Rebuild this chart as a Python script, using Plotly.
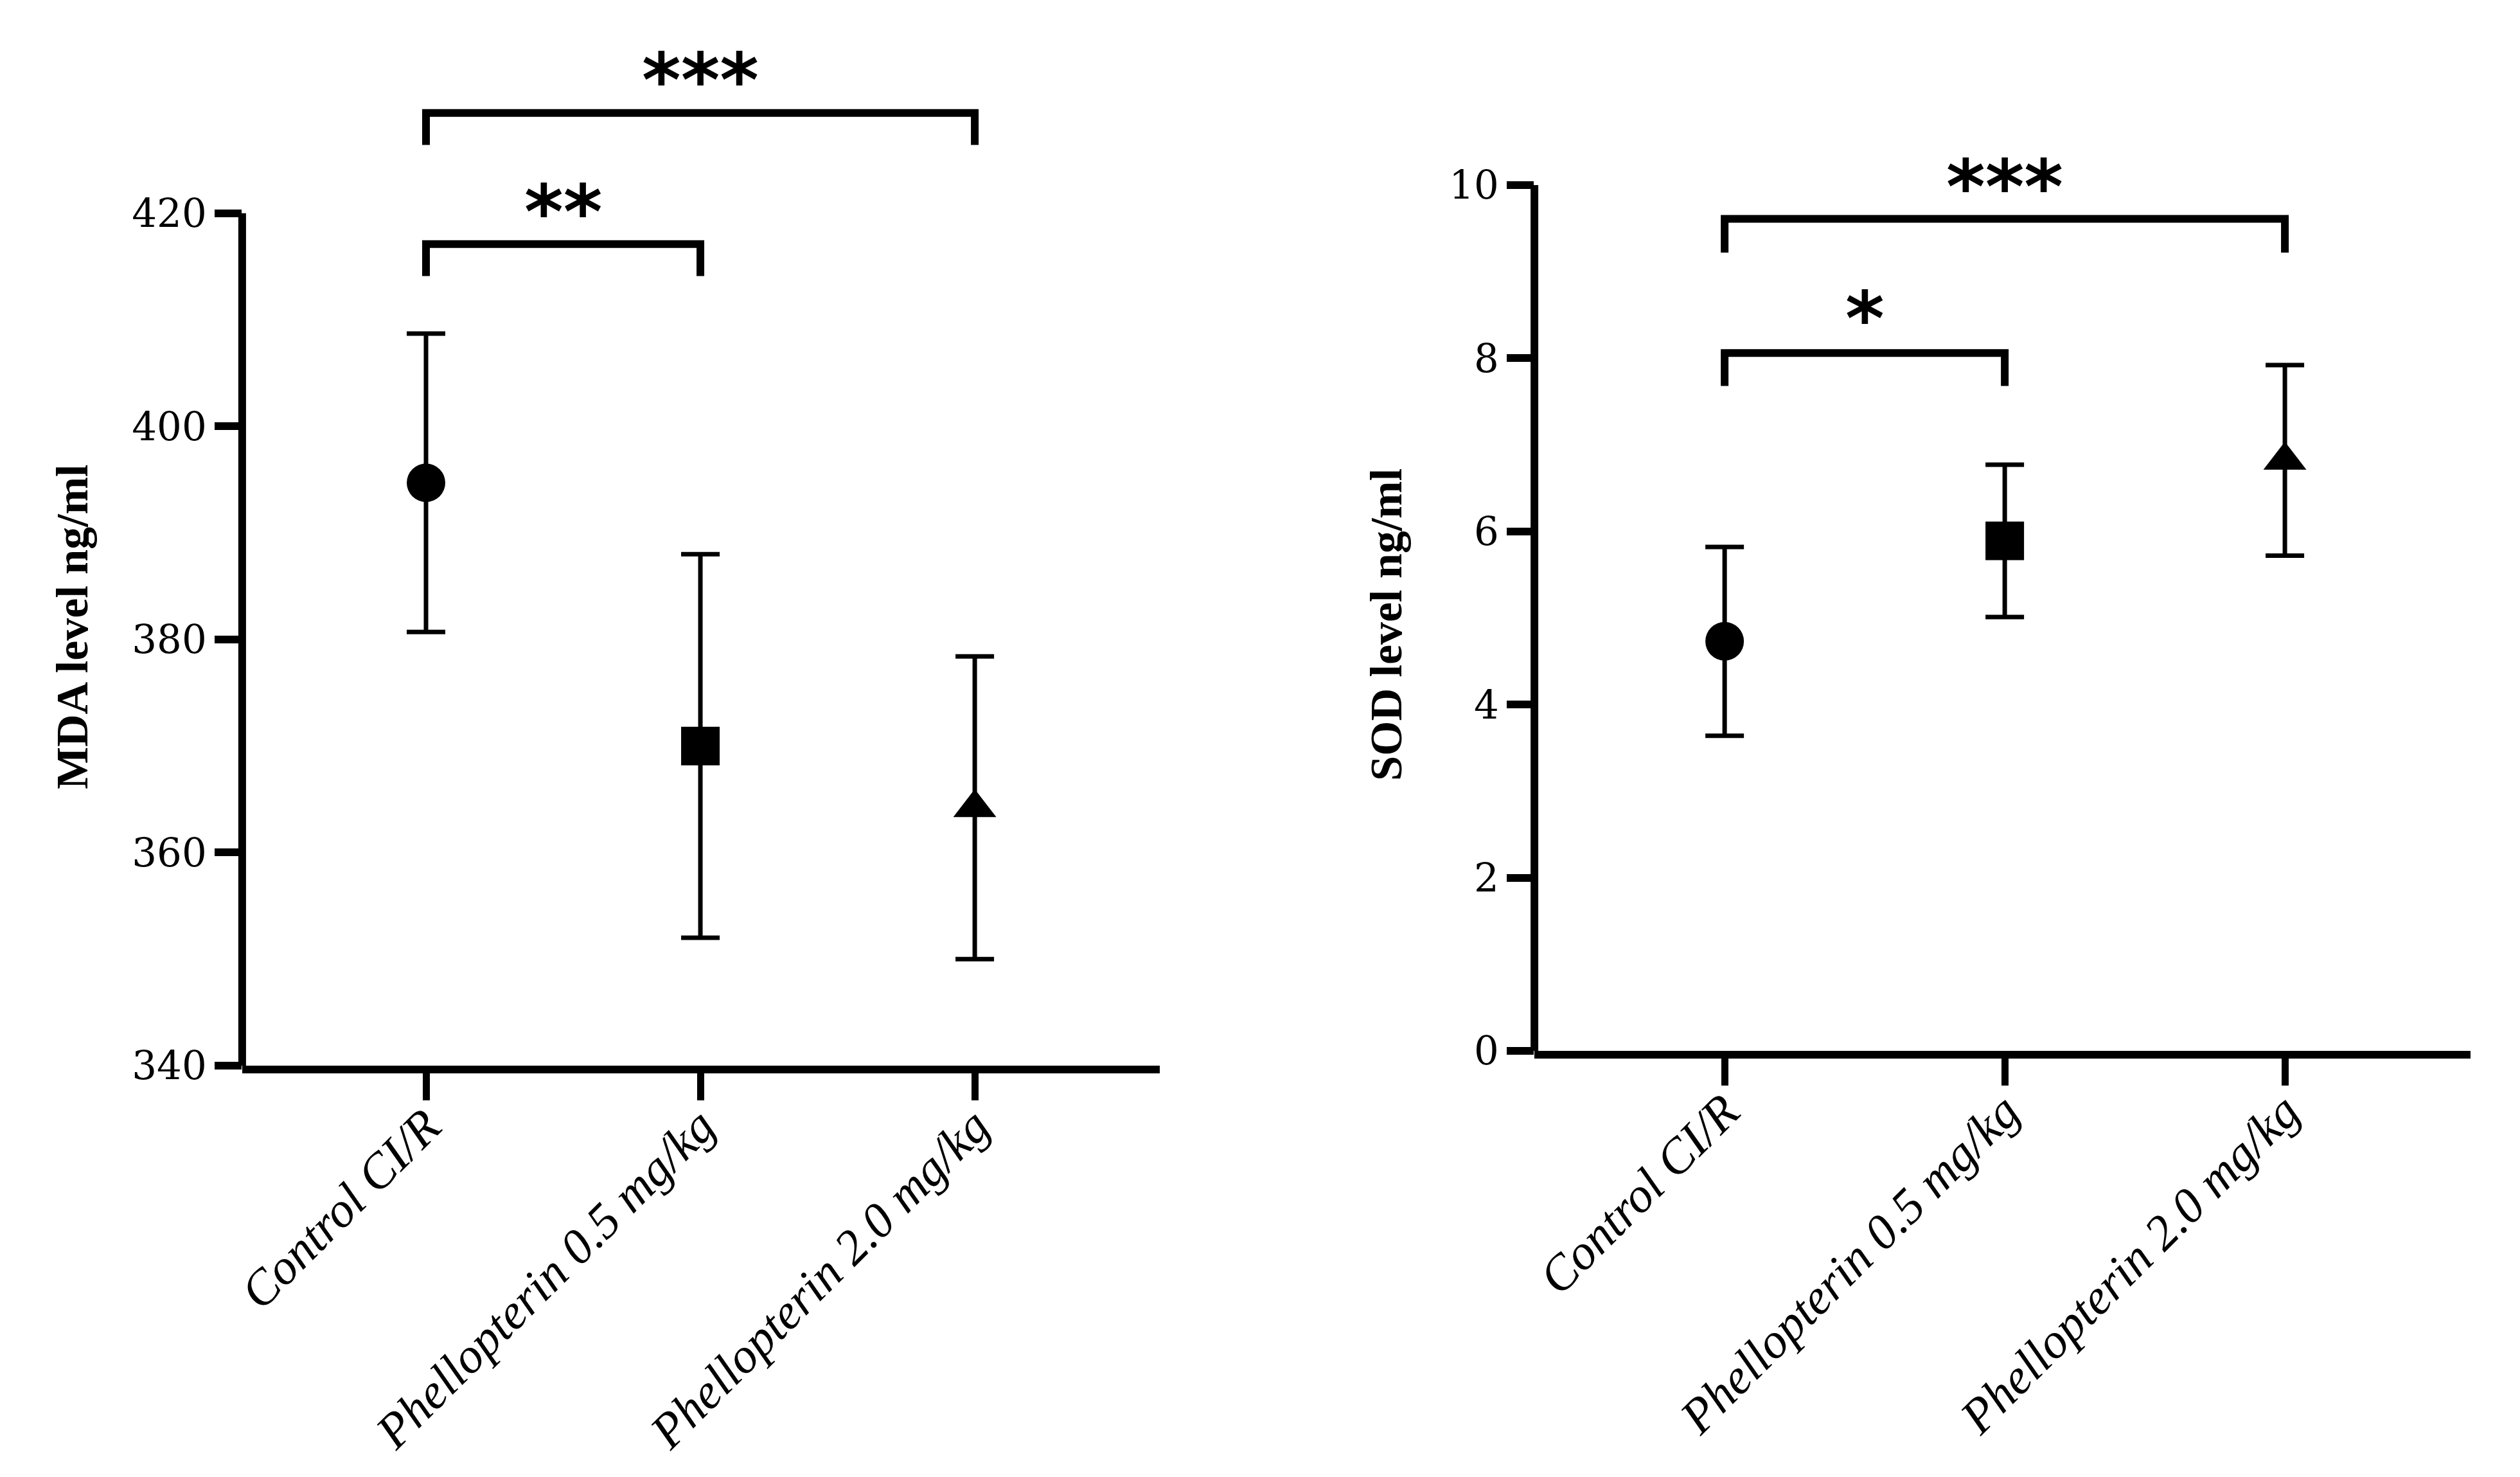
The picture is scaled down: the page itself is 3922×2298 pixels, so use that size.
import plotly.graph_objects as go

# ---------------- data ----------------
categories = ["Control CI/R", "Phellopterin 0.5 mg/kg", "Phellopterin 2.0 mg/kg"]
symbols = ["circle", "square", "triangle-up"]

mda_mean = [394.7, 370.0, 364.2]
mda_err = [14.0, 18.0, 14.2]
mda_ticks = [340, 360, 380, 400, 420]

sod_mean = [4.73, 5.89, 6.82]
sod_err = [1.09, 0.88, 1.10]
sod_ticks = [0, 2, 4, 6, 8, 10]

# significance brackets: (group a, group b, leg bottom, bar height, label, label y)
mda_brackets = [(0, 1, 414.1, 417.1, "**", 421.8),
                (0, 2, 426.4, 429.4, "***", 434.2)]
sod_brackets = [(0, 1, 7.68, 8.06, "*", 8.67),
                (0, 2, 9.22, 9.61, "***", 10.19)]

# ---------------- figure ----------------
W, H = 3922, 2298
fig = go.Figure()

marker_sizes = [60, 60, 58]

for xs, ys, es, xa, ya in [(list(range(len(categories))), mda_mean, mda_err, "x", "y"),
                           (list(range(len(categories))), sod_mean, sod_err, "x2", "y2")]:
    fig.add_trace(go.Scatter(
        x=xs, y=ys, mode="markers",
        marker=dict(symbol=symbols, size=marker_sizes, color="black", opacity=1, line=dict(width=0)),
        error_y=dict(type="data", array=es, symmetric=True, color="black", thickness=7, width=30),
        xaxis=xa, yaxis=ya, cliponaxis=False, showlegend=False, opacity=1))

xtickfont = dict(family="Liberation Serif", size=77, color="black", style="italic")
ytickfont = dict(family="DejaVu Serif", size=61, color="black")

common_x = dict(tickmode="array", tickvals=list(range(len(categories))), ticktext=categories,
                tickangle=-45, tickfont=xtickfont, showline=True, linewidth=12, linecolor="black",
                ticks="outside", ticklen=42, tickwidth=11, tickcolor="black", ticklabelstandoff=-36,
                showgrid=False, zeroline=False, automargin=False, fixedrange=True)
common_y = dict(showline=False, ticks="outside", ticklen=42, tickwidth=12, tickcolor="black",
                tickfont=ytickfont, showgrid=False, zeroline=False, tickmode="array",
                automargin=False, fixedrange=True)

fig.update_layout(
    width=W, height=H, margin=dict(l=0, r=0, t=0, b=0, autoexpand=False),
    paper_bgcolor="white", plot_bgcolor="white", showlegend=False,
    xaxis=dict(domain=[0.0961, 0.4602], range=[-0.670, 2.674], anchor="y", **common_x),
    yaxis=dict(domain=[0.2785, 0.9711], range=[340, 436], anchor="x",
               tickvals=mda_ticks, ticktext=[str(t) for t in mda_ticks], **common_y),
    xaxis2=dict(domain=[0.6089, 0.9804], range=[-0.679, 2.663], anchor="y2", **common_x),
    yaxis2=dict(domain=[0.2885, 0.9099], range=[0, 10.6], anchor="x2",
                tickvals=sod_ticks, ticktext=[str(t) for t in sod_ticks], **common_y),
)

shapes = []
annotations = []

# y-axis lines only up to the last tick
shapes.append(dict(type="line", xref="x domain", yref="y", x0=0, x1=0,
                   y0=mda_ticks[0], y1=mda_ticks[-1], line=dict(color="black", width=12)))
shapes.append(dict(type="line", xref="x2 domain", yref="y2", x0=0, x1=0,
                   y0=sod_ticks[0], y1=sod_ticks[-1], line=dict(color="black", width=12)))

def add_brackets(brackets, xr, yr):
    for a, b, lo, hi, label, ly in brackets:
        shapes.append(dict(type="path", xref=xr, yref=yr,
                           path=f"M {a},{lo} L {a},{hi} L {b},{hi} L {b},{lo}",
                           line=dict(color="black", width=12)))
        annotations.append(dict(x=(a + b) / 2, y=ly, xref=xr, yref=yr, text=label,
                                showarrow=False, xanchor="center", yanchor="middle", yshift=-28,
                                font=dict(family="DejaVu Sans", size=116, color="black", weight="bold")))

add_brackets(mda_brackets, "x", "y")
add_brackets(sod_brackets, "x2", "y2")

# axis titles
annotations.append(dict(x=112 / W, y=1 - 976 / H, xref="paper", yref="paper",
                        text="MDA level ng/ml", textangle=-90, showarrow=False,
                        xanchor="center", yanchor="middle",
                        font=dict(family="Liberation Serif", size=70, color="black", weight="bold")))
annotations.append(dict(x=2157 / W, y=1 - 972 / H, xref="paper", yref="paper",
                        text="SOD level ng/ml", textangle=-90, showarrow=False,
                        xanchor="center", yanchor="middle",
                        font=dict(family="Liberation Serif", size=70, color="black", weight="bold")))

fig.update_layout(shapes=shapes, annotations=annotations)

fig.write_html("out.html")
